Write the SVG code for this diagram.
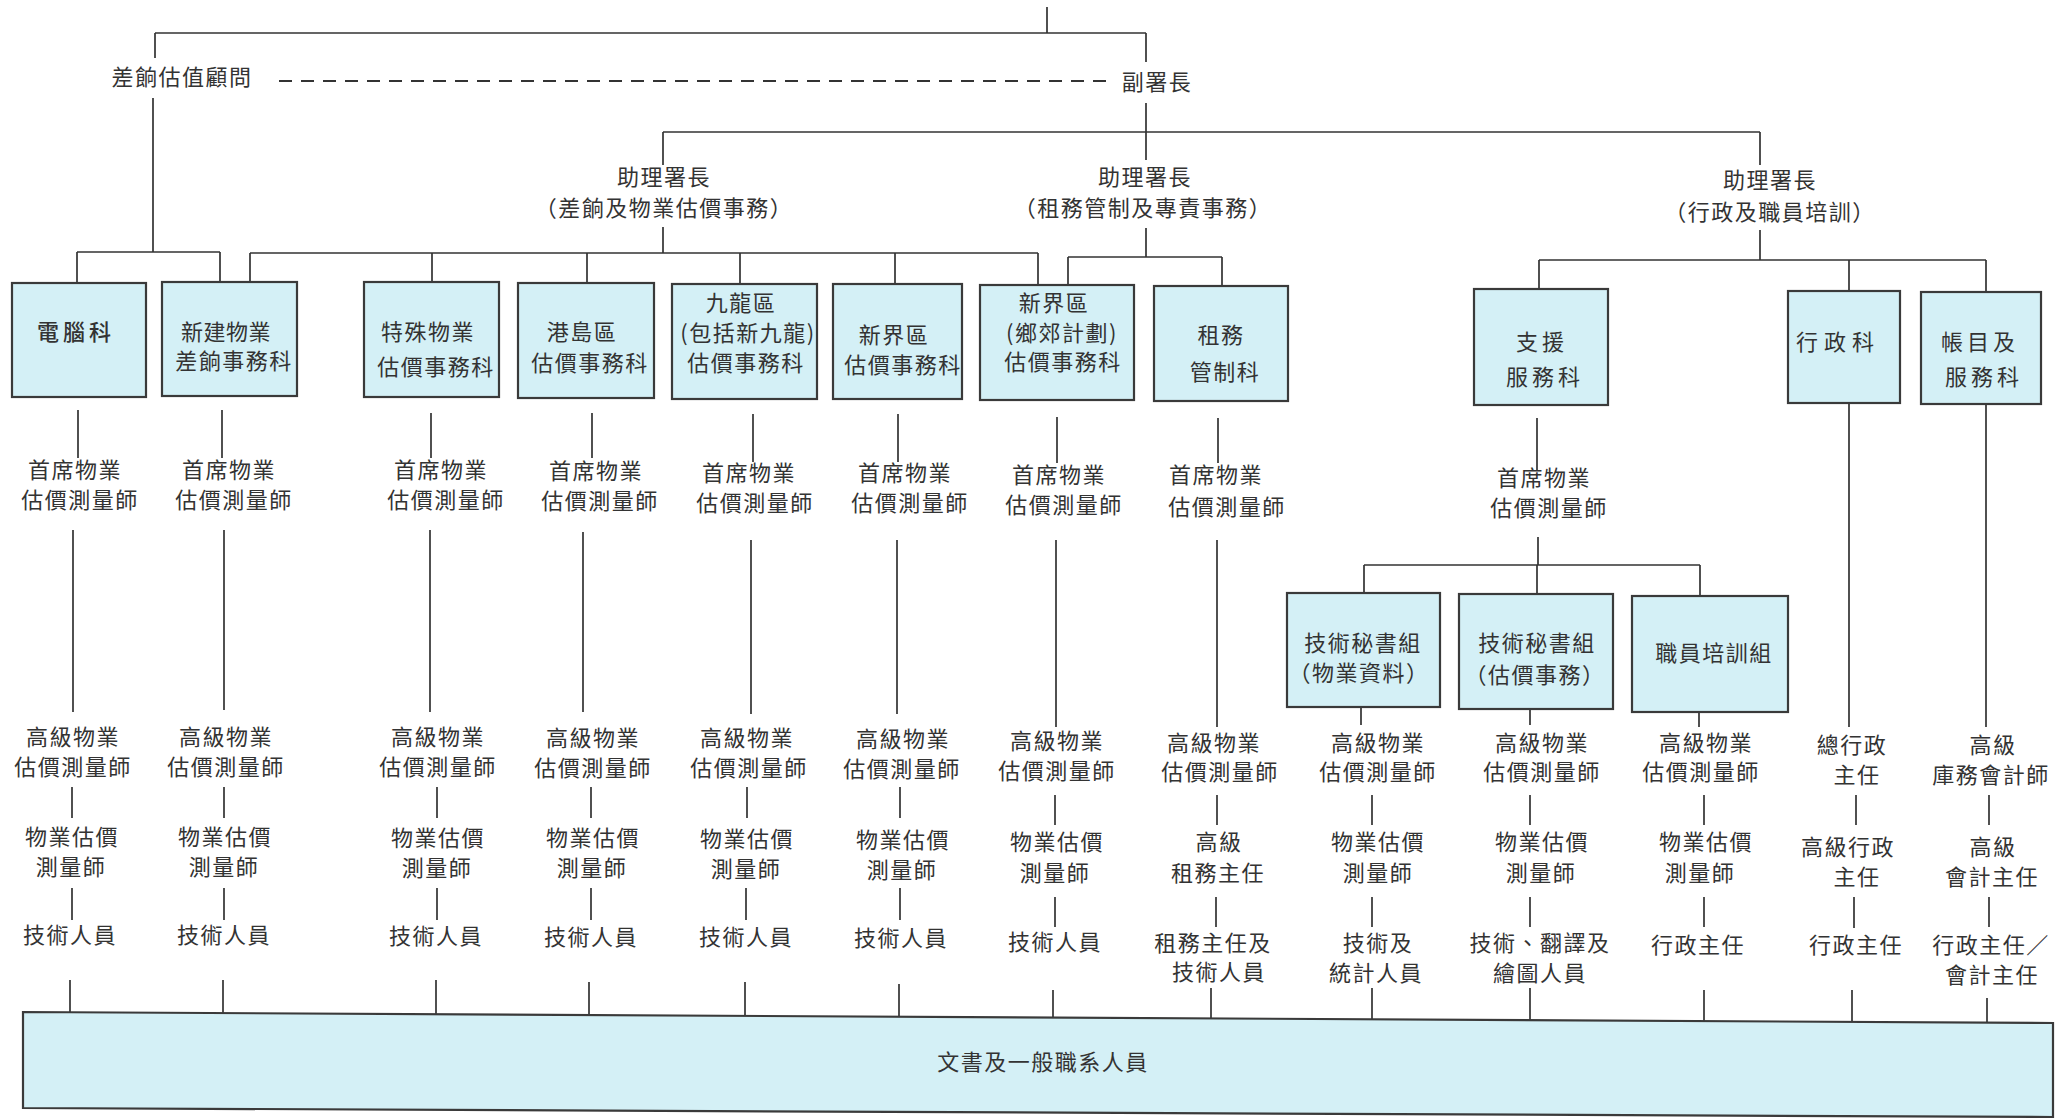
<svg xmlns="http://www.w3.org/2000/svg" width="2069" height="1120" viewBox="0 0 2069 1120">
<style>
text{font-family:"Noto Sans CJK TC","Noto Sans CJK SC",sans-serif;font-size:22px;fill:#333;text-anchor:middle;letter-spacing:1.5px}
.box{fill:#d4f0f6;stroke:#3a3a3a;stroke-width:2.2}
.w5{letter-spacing:4px}
.w7{letter-spacing:6px}
.w1{letter-spacing:0.5px}
.ln{fill:none;stroke:#333;stroke-width:1.7}
.dash{fill:none;stroke:#333;stroke-width:2;stroke-dasharray:13 9}
</style>
<rect width="2069" height="1120" fill="#ffffff"/>
<g id="connectors">
<path class="ln" d="M1047,7V33 M155,33H1146 M155,33V58 M153,98V252 M77,252H220 M77,252V283 M220,252V282 M1146,33V62 M1146,103V160 M663,132H1760 M663,132V165 M1760,132V165 M663,227V253 M250,253H1038 M250,253V282 M432,253V283 M587,253V283 M740,253V284 M895,253V284 M1038,253V285 M1146,228V257 M1068,257H1222 M1068,257V285 M1222,257V286 M1760,230V260 M1539,260H1986 M1539,260V289 M1849,260V291 M1986,260V292"/>
<path class="dash" d="M279,81H1106"/>
<path class="ln" d="M78,410V458 M73,530V712 M72,787V818 M72,888V920 M70,980V1012
M222,410V458 M224,530V710 M224,787V818 M224,888V920 M223,980V1013
M431,413V458 M430,530V712 M437,787V818 M437,888V920 M436,980V1014
M592,413V458 M583,532V712 M591,787V818 M591,888V920 M589,982V1015
M753,414V462 M751,540V714 M747,787V818 M746,888V920 M745,982V1016
M898,414V462 M897,540V714 M900,787V818 M900,888V920 M899,984V1017
M1057,417V463 M1056,540V727 M1055,795V825 M1055,897V927 M1053,990V1018
M1218,418V463 M1217,540V727 M1217,795V825 M1216,897V927 M1211,988V1019
M1537,418V470 M1538,537V565 M1364,565H1700 M1364,565V593 M1537,565V594 M1700,565V596
M1361,707V725 M1372,795V825 M1372,897V927 M1372,988V1020
M1530,709V725 M1530,795V825 M1530,897V927 M1530,988V1020
M1699,712V727 M1704,795V825 M1704,897V927 M1704,990V1021
M1849,403V727 M1856,795V825 M1854,897V928 M1852,990V1022
M1986,404V727 M1989,795V825 M1989,897V927 M1987,998V1023"/>
</g>
<g id="commissioner-deputy">
<text x="182" y="85">差餉估值顧問</text>
<text x="1157" y="90">副署長</text>
</g>
<g id="ad-rating">
<text x="664" y="185">助理署長</text>
<text x="664" y="216">（差餉及物業估價事務）</text>
</g>
<g id="ad-tenancy">
<text x="1145" y="185">助理署長</text>
<text x="1143" y="216">（租務管制及專責事務）</text>
</g>
<g id="ad-admin">
<text x="1770" y="188">助理署長</text>
<text x="1770" y="220">（行政及職員培訓）</text>
</g>
<g id="box-computer"><rect class="box" x="12" y="283" width="134" height="114"/><text class="w5" x="76" y="340" font-weight="500">電腦科</text></g>
<g id="box-newprop"><rect class="box" x="162" y="282" width="135" height="114"/><text class="w1" x="226" y="340">新建物業</text><text x="234" y="369">差餉事務科</text></g>
<g id="box-special"><rect class="box" x="364" y="282" width="135" height="115"/><text x="428" y="340">特殊物業</text><text x="436" y="375">估價事務科</text></g>
<g id="box-hk"><rect class="box" x="518" y="283" width="136" height="115"/><text x="582" y="340">港島區</text><text x="590" y="371">估價事務科</text></g>
<g id="box-kln"><rect class="box" x="672" y="284" width="145" height="115"/><text x="741" y="311">九龍區</text><text x="748" y="341">(包括新九龍)</text><text x="746" y="371">估價事務科</text></g>
<g id="box-nt"><rect class="box" x="833" y="284" width="129" height="115"/><text x="894" y="343">新界區</text><text x="903" y="373">估價事務科</text></g>
<g id="box-ntrural"><rect class="box" x="980" y="285" width="154" height="115"/><text x="1054" y="311">新界區</text><text x="1062" y="341">(鄉郊計劃)</text><text x="1063" y="370">估價事務科</text></g>
<g id="box-tenancy"><rect class="box" x="1154" y="286" width="134" height="115"/><text x="1221" y="343">租務</text><text x="1225" y="380">管制科</text></g>
<g id="box-support"><rect class="box" x="1474" y="289" width="134" height="116"/><text class="w5" x="1542" y="350">支援</text><text class="w5" x="1545" y="385">服務科</text></g>
<g id="box-admin"><rect class="box" x="1788" y="291" width="112" height="112"/><text class="w7" x="1838" y="350">行政科</text></g>
<g id="box-accounts"><rect class="box" x="1921" y="292" width="120" height="112"/><text class="w5" x="1980" y="350">帳目及</text><text class="w5" x="1984" y="385">服務科</text></g>
<g id="box-techsec1"><rect class="box" x="1287" y="593" width="153" height="114"/><text x="1363" y="651">技術秘書組</text><text x="1359" y="681">（物業資料）</text></g>
<g id="box-techsec2"><rect class="box" x="1459" y="594" width="154" height="115"/><text x="1537" y="651">技術秘書組</text><text x="1535" y="683">（估價事務）</text></g>
<g id="box-training"><rect class="box" x="1632" y="596" width="156" height="116"/><text x="1714" y="661">職員培訓組</text></g>
<g id="col1"><text x="75" y="478">首席物業</text><text x="80" y="508">估價測量師</text><text x="73" y="745">高級物業</text><text x="73" y="775">估價測量師</text><text x="72" y="845">物業估價</text><text x="71" y="875">測量師</text><text x="70" y="943">技術人員</text></g>
<g id="col2"><text x="229" y="478">首席物業</text><text x="234" y="508">估價測量師</text><text x="226" y="745">高級物業</text><text x="226" y="775">估價測量師</text><text x="225" y="845">物業估價</text><text x="224" y="875">測量師</text><text x="224" y="943">技術人員</text></g>
<g id="col3"><text x="441" y="478">首席物業</text><text x="446" y="508">估價測量師</text><text x="438" y="745">高級物業</text><text x="438" y="775">估價測量師</text><text x="438" y="846">物業估價</text><text x="437" y="876">測量師</text><text x="436" y="944">技術人員</text></g>
<g id="col4"><text x="596" y="479">首席物業</text><text x="600" y="509">估價測量師</text><text x="593" y="746">高級物業</text><text x="593" y="776">估價測量師</text><text x="593" y="846">物業估價</text><text x="592" y="876">測量師</text><text x="591" y="945">技術人員</text></g>
<g id="col5"><text x="749" y="481">首席物業</text><text x="755" y="511">估價測量師</text><text x="747" y="746">高級物業</text><text x="749" y="776">估價測量師</text><text x="747" y="847">物業估價</text><text x="746" y="877">測量師</text><text x="746" y="945">技術人員</text></g>
<g id="col6"><text x="905" y="481">首席物業</text><text x="910" y="511">估價測量師</text><text x="903" y="747">高級物業</text><text x="902" y="777">估價測量師</text><text x="903" y="848">物業估價</text><text x="902" y="878">測量師</text><text x="901" y="946">技術人員</text></g>
<g id="col7"><text x="1059" y="483">首席物業</text><text x="1064" y="513">估價測量師</text><text x="1057" y="749">高級物業</text><text x="1057" y="779">估價測量師</text><text x="1057" y="850">物業估價</text><text x="1055" y="881">測量師</text><text x="1055" y="950">技術人員</text></g>
<g id="col8"><text x="1216" y="483">首席物業</text><text x="1227" y="515">估價測量師</text><text x="1214" y="751">高級物業</text><text x="1220" y="780">估價測量師</text><text x="1219" y="850">高級</text><text x="1218" y="881">租務主任</text><text x="1213" y="951">租務主任及</text><text x="1219" y="980">技術人員</text></g>
<g id="col-support"><text x="1544" y="486">首席物業</text><text x="1549" y="516">估價測量師</text></g>
<g id="col-techsec1"><text x="1378" y="751">高級物業</text><text x="1378" y="780">估價測量師</text><text x="1378" y="850">物業估價</text><text x="1378" y="881">測量師</text><text x="1378" y="951">技術及</text><text x="1376" y="981">統計人員</text></g>
<g id="col-techsec2"><text x="1542" y="751">高級物業</text><text x="1542" y="780">估價測量師</text><text x="1542" y="850">物業估價</text><text x="1541" y="881">測量師</text><text x="1540" y="951">技術、翻譯及</text><text x="1540" y="981">繪圖人員</text></g>
<g id="col-training"><text x="1706" y="751">高級物業</text><text x="1701" y="780">估價測量師</text><text x="1706" y="850">物業估價</text><text x="1700" y="881">測量師</text><text x="1698" y="953">行政主任</text></g>
<g id="col-admin"><text x="1852" y="753">總行政</text><text x="1857" y="783">主任</text><text x="1848" y="855">高級行政</text><text x="1857" y="885">主任</text><text x="1856" y="953">行政主任</text></g>
<g id="col-accounts"><text x="1993" y="753">高級</text><text x="1991" y="783">庫務會計師</text><text x="1993" y="855">高級</text><text x="1992" y="885">會計主任</text><text x="1991" y="953">行政主任／</text><text x="1992" y="983">會計主任</text></g>
<g id="box-clerical"><path class="box" d="M23,1012L2053,1023L2053,1117L23,1108Z"/><text x="1043" y="1070">文書及一般職系人員</text></g>
</svg>
